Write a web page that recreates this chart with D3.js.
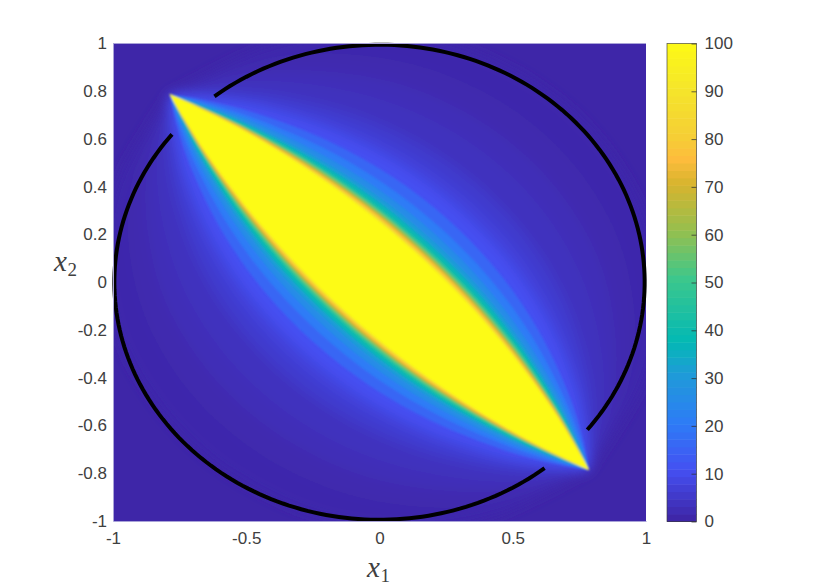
<!DOCTYPE html>
<html><head><meta charset="utf-8">
<script src="https://cdn.jsdelivr.net/npm/d3@7"></script>
<style>
html,body{margin:0;padding:0;background:#fff}
svg{display:block}
text{font-family:"Liberation Sans",Arial,sans-serif}
</style></head><body>
<div id="c"></div>
<script>
const xTicks=[-1,-0.5,0,0.5,1];
const xTickLabels=["-1","-0.5","0","0.5","1"];
const yTicks=[-1,-0.8,-0.6,-0.4,-0.2,0,0.2,0.4,0.6,0.8,1];
const yTickLabels=["-1","-0.8","-0.6","-0.4","-0.2","0","0.2","0.4","0.6","0.8","1"];
const cbTicks=[0,10,20,30,40,50,60,70,80,90,100];
const colorPositions=[0,10,20,30,37,50,60,70,75,80,90,100];
const parulaStops=["#3e26a8","#4450f2","#2d7cf6","#1f9bd8","#03b9b4","#3cc78c","#95bf4e","#d8b42e","#fdbc3c","#f5cf35","#f5e62a","#fdfb14"];

// tips of the lens and positions along it (-1 to 1 from tip to tip)
const tip=0.787;
const lowerSideScale=0.96;
const stations=[0,0.25,0.5,0.75,0.9,1];
const contourLevels=[0.5,1,2,3,5,7,10,15,20,25,30,35,40,50,60,70,75,80,90,100];
const softBelow=15;
// half-width of each contour at each station
const hw0_5=[.720,.695,.620,.460,.280,0];
const hw1=[.620,.596,.520,.370,.210,0];
const hw2=[.540,.517,.445,.300,.160,0];
const hw3=[.470,.448,.378,.248,.125,0];
const hw5=[.390,.370,.308,.195,.092,0];
const hw7=[.340,.322,.265,.165,.075,0];
const hw10=[.300,.284,.232,.142,.063,0];
const hw15=[.260,.245,.199,.120,.054,0];
const hw20=[.228,.215,.174,.104,.046,0];
const hw25=[.205,.193,.155,.093,.040,0];
const hw30=[.187,.176,.141,.083,.035,0];
const hw35=[.175,.165,.132,.078,.033,0];
const hw40=[.167,.157,.126,.074,.031,0];
const hw50=[.158,.149,.120,.070,.030,0];
const hw60=[.151,.142,.114,.067,.029,0];
const hw70=[.145,.136,.109,.065,.028,0];
const hw75=[.141,.133,.106,.063,.027,0];
const hw80=[.138,.130,.104,.061,.026,0];
const hw90=[.134,.126,.101,.060,.025,0];
const hw100=[.130,.122,.098,.058,.025,0];
const contourWidths=[hw0_5,hw1,hw2,hw3,hw5,hw7,hw10,hw15,hw20,hw25,hw30,hw35,hw40,hw50,hw60,hw70,hw75,hw80,hw90,hw100];
// circle arcs: start and end angle in degrees
const arcRadius=0.995;
const arcUpper=[128.5,-38.4];
const arcLower=[141.5,308.5];

const W=830,H=587;
const plot={l:113,r:646,t:43.5,b:521};
const cb={l:667,r:696.5,t:43.5,b:521.5};
const x=d3.scaleLinear().domain([-1,1]).range([plot.l,plot.r]);
const y=d3.scaleLinear().domain([-1,1]).range([plot.b,plot.t]);
const color=d3.scaleLinear().domain(colorPositions).range(parulaStops).interpolate(d3.interpolateRgb).clamp(true);

const svg=d3.select("#c").append("svg").attr("width",W).attr("height",H);
const defs=svg.append("defs");
defs.append("clipPath").attr("id","pc").append("rect").attr("x",plot.l).attr("y",plot.t).attr("width",plot.r-plot.l).attr("height",plot.b-plot.t);
[["soft",6],["fine",1]].forEach(f=>{
  defs.append("filter").attr("id",f[0]).attr("filterUnits","userSpaceOnUse").attr("x",0).attr("y",0).attr("width",W).attr("height",H)
    .append("feGaussianBlur").attr("stdDeviation",f[1]);
});

const clip=svg.append("g").attr("clip-path","url(#pc)");
clip.append("rect").attr("x",plot.l).attr("y",plot.t).attr("width",plot.r-plot.l).attr("height",plot.b-plot.t).attr("fill",color(0));
const outer=clip.append("g").attr("filter","url(#soft)");
const inner=clip.append("g").attr("filter","url(#fine)");

const line=d3.line().x(d=>x(d[0])).y(d=>y(d[1])).curve(d3.curveCatmullRom.alpha(0.5));
function side(widths,sign){
  const ts=[...stations.slice(1).reverse().map(s=>-s),...stations];
  const ws=[...widths.slice(1).reverse(),...widths];
  return ts.map((t,i)=>[t*tip+sign*ws[i],-t*tip+sign*ws[i]]);
}
function lens(i){
  const up=line(side(contourWidths[i],1));
  const lo=line(side(contourWidths[i],-lowerSideScale).reverse());
  return up+lo.replace("M","L")+"Z";
}
contourLevels.forEach((lv,i)=>{
  (lv<softBelow?outer:inner).append("path").attr("fill",color(lv)).attr("d",lens(i));
});

// circle
const circ=d3.line().x(a=>x(arcRadius*Math.cos(a*Math.PI/180))).y(a=>y(arcRadius*Math.sin(a*Math.PI/180)));
[arcUpper,arcLower].forEach(a=>{
  const n=120;
  svg.append("path").attr("d",circ(d3.range(n+1).map(i=>a[0]+(a[1]-a[0])*i/n)))
    .attr("fill","none").attr("stroke","#000").attr("stroke-width",4);
});

// axes
const tc="#404040";
const ax=svg.append("g").attr("transform",`translate(0,${plot.b})`).call(d3.axisBottom(x).tickValues(xTicks).tickFormat((d,i)=>xTickLabels[i]).tickSize(0).tickPadding(11));
const ay=svg.append("g").attr("transform",`translate(${plot.l},0)`).call(d3.axisLeft(y).tickValues(yTicks).tickFormat((d,i)=>yTickLabels[i]).tickSize(0).tickPadding(6));
[ax,ay].forEach(g=>{g.attr("font-family",null).attr("font-size",null);
  g.selectAll("text").attr("font-size",17).attr("fill",tc).style("font-family",'"Liberation Sans"');
  g.select(".domain").attr("stroke","#a9a3d8").attr("stroke-width",1);});
svg.append("path").attr("d",`M${plot.l},${plot.t}H${plot.r}`).attr("stroke","#a9a3d8").attr("fill","none");

// colorbar
const cy=d3.scaleLinear().domain([0,100]).range([cb.b,cb.t]);
const cbSteps=d3.range(0,100,100/64);
svg.append("g").selectAll("rect").data(cbSteps).join("rect")
  .attr("x",cb.l).attr("width",cb.r-cb.l)
  .attr("y",d=>cy(d+100/64)).attr("height",d=>cy(d)-cy(d+100/64)+0.5)
  .attr("fill",d=>color(d));
svg.append("rect").attr("x",cb.l).attr("y",cb.t).attr("width",cb.r-cb.l).attr("height",cb.b-cb.t)
  .attr("fill","none").attr("stroke","#3a3a3a").attr("stroke-width",0.8).attr("stroke-opacity",0.8);
const ac=svg.append("g").attr("transform",`translate(${cb.r},0)`).call(d3.axisRight(cy).tickValues(cbTicks).tickSize(-5).tickPadding(8));
ac.select(".domain").remove();
ac.attr("font-family",null).attr("font-size",null);
ac.selectAll("text").attr("font-size",17).attr("fill",tc).style("font-family",'"Liberation Sans"');
ac.selectAll("line").attr("stroke","#303030").attr("stroke-opacity",0.75);

// math labels
function mathLabel(px,py,sub){
  const t=svg.append("text").attr("x",px).attr("y",py).attr("fill","#404040").style("font-family",'"Liberation Serif"');
  t.append("tspan").attr("font-size",29).attr("font-style","italic").text("x");
  t.append("tspan").attr("font-size",19).attr("dy",5).attr("dx",0.5).text(sub);
}
mathLabel(367,577,"1");
mathLabel(54,271,"2");
</script>
</body></html>
